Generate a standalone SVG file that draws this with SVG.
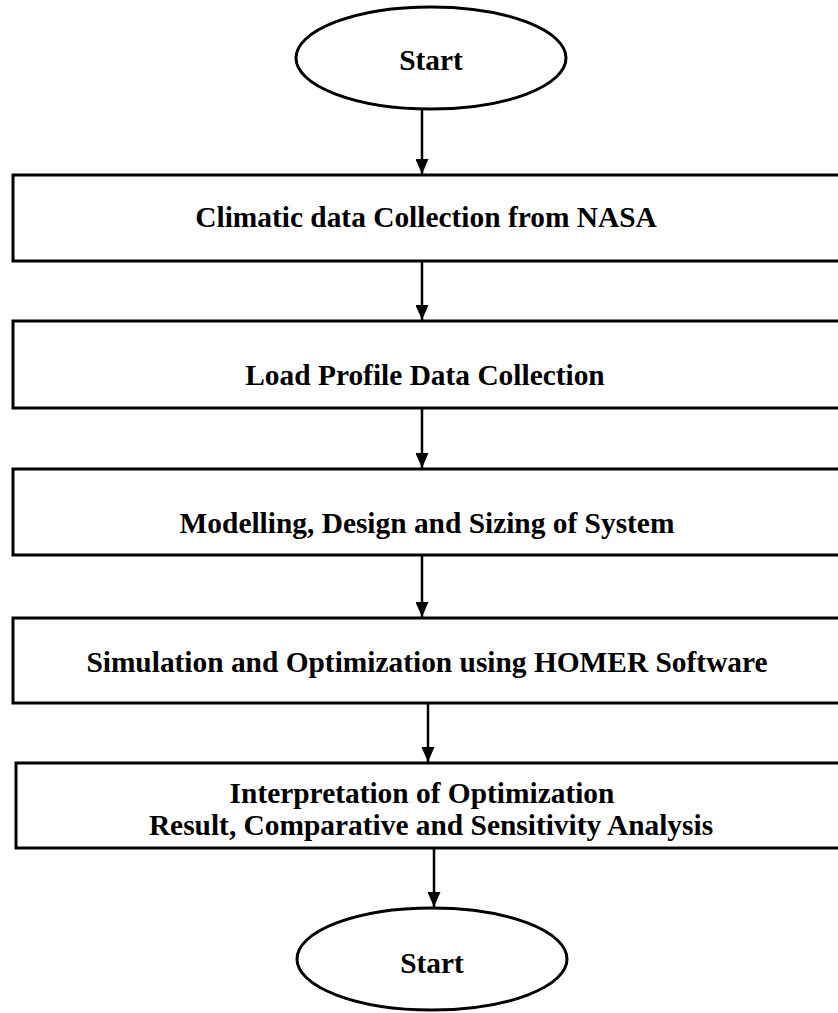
<svg xmlns="http://www.w3.org/2000/svg" width="838" height="1013" viewBox="0 0 838 1013">
<style>
.shape{fill:#fff;stroke:#000;stroke-width:3}
.lbl{font-family:"Liberation Serif","Times New Roman",serif;font-weight:bold;font-size:29.4px;text-anchor:middle;fill:#000}
.conn{stroke:#000;stroke-width:2.5;fill:none}
</style>
<defs>
<marker id="ah" viewBox="0 0 15 13" refX="15" refY="6.5" markerWidth="15" markerHeight="13" markerUnits="userSpaceOnUse" orient="auto">
<path d="M0,0 L15,6.5 L0,13 Z" fill="#000"/>
</marker>
</defs>
<rect width="838" height="1013" fill="#fff"/>
<g id="start">
<ellipse class="shape" cx="431" cy="58" rx="135" ry="51"/>
<text class="lbl" x="431" y="70">Start</text>
</g>
<g id="climatic">
<rect class="shape" x="13" y="175" width="840" height="86"/>
<text class="lbl" x="426" y="227">Climatic data Collection from NASA</text>
</g>
<g id="load">
<rect class="shape" x="13" y="321" width="840" height="87"/>
<text class="lbl" x="425" y="385">Load Profile Data Collection</text>
</g>
<g id="modelling">
<rect class="shape" x="13" y="469" width="840" height="86"/>
<text class="lbl" x="427" y="533">Modelling, Design and Sizing of System</text>
</g>
<g id="simulation">
<rect class="shape" x="13" y="618" width="840" height="85"/>
<text class="lbl" x="427" y="672">Simulation and Optimization using HOMER Software</text>
</g>
<g id="interpretation">
<rect class="shape" x="16" y="763" width="840" height="85"/>
<text class="lbl" x="422" y="803">Interpretation of Optimization</text>
<text class="lbl" x="431" y="835">Result, Comparative and Sensitivity Analysis</text>
</g>
<g id="end">
<ellipse class="shape" cx="432" cy="959" rx="135" ry="51"/>
<text class="lbl" x="432" y="973">Start</text>
</g>
<g id="connectors">
<line class="conn" x1="422" y1="110" x2="422" y2="174" marker-end="url(#ah)"/>
<line class="conn" x1="422" y1="262" x2="422" y2="320" marker-end="url(#ah)"/>
<line class="conn" x1="422" y1="409" x2="422" y2="468" marker-end="url(#ah)"/>
<line class="conn" x1="422" y1="556" x2="422" y2="617" marker-end="url(#ah)"/>
<line class="conn" x1="428" y1="704" x2="428" y2="762" marker-end="url(#ah)"/>
<line class="conn" x1="434" y1="849" x2="434" y2="907" marker-end="url(#ah)"/>
</g>
</svg>
